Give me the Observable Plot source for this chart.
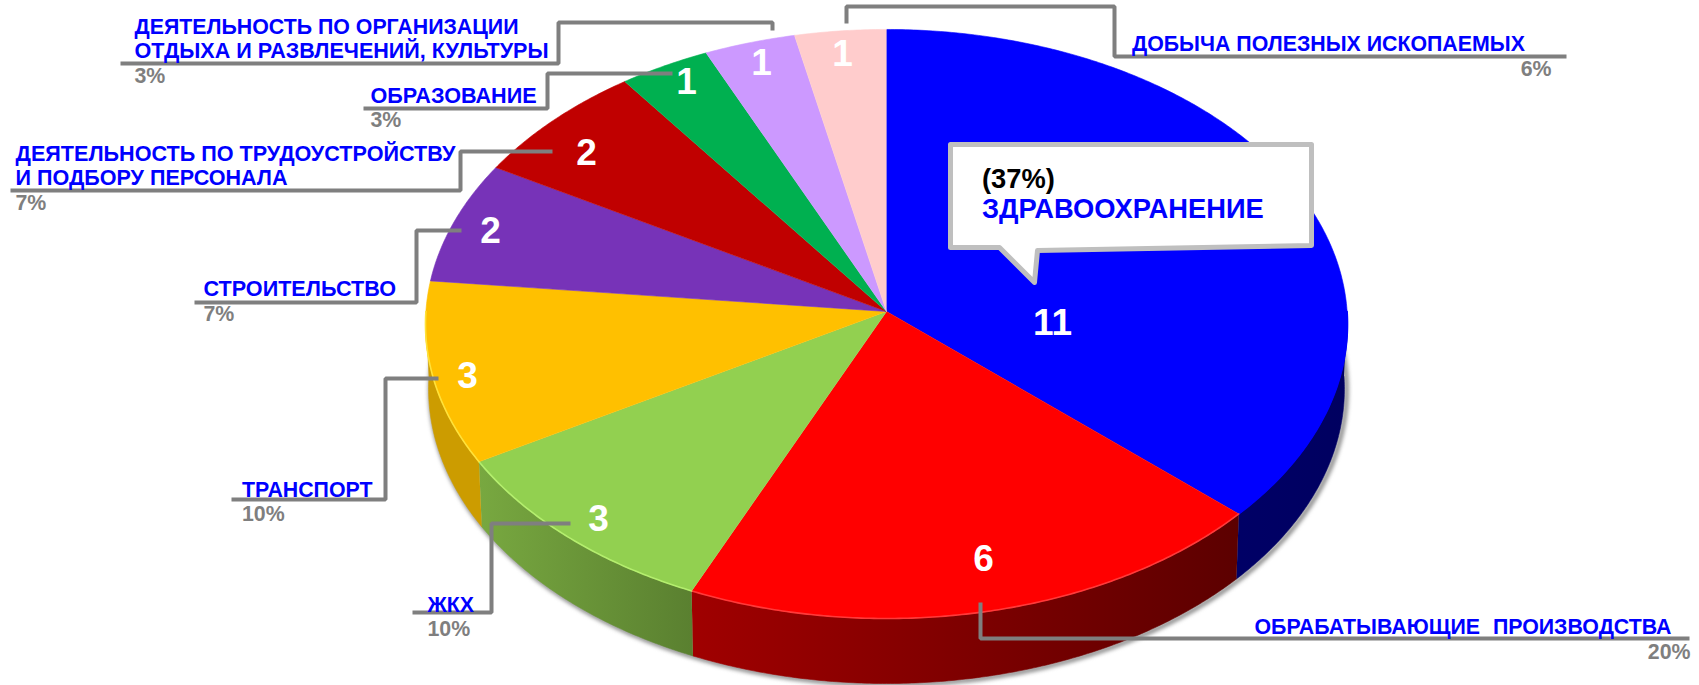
<!DOCTYPE html>
<html>
<head>
<meta charset="utf-8">
<script src="https://cdn.jsdelivr.net/npm/d3@7"></script>
<script src="https://cdn.jsdelivr.net/npm/@observablehq/plot@0.6"></script>
<style>
html,body{margin:0;padding:0;background:#fff;overflow:hidden}
svg{display:block;max-width:none}
</style>
</head>
<body>
<div id="chart"></div>
<script>
// ---- data ----
const categories = ["ЗДРАВООХРАНЕНИЕ","ОБРАБАТЫВАЮЩИЕ ПРОИЗВОДСТВА","ЖКХ","ТРАНСПОРТ","СТРОИТЕЛЬСТВО","ДЕЯТЕЛЬНОСТЬ ПО ТРУДОУСТРОЙСТВУ И ПОДБОРУ ПЕРСОНАЛА","ОБРАЗОВАНИЕ","ДЕЯТЕЛЬНОСТЬ ПО ОРГАНИЗАЦИИ ОТДЫХА И РАЗВЛЕЧЕНИЙ, КУЛЬТУРЫ","ДОБЫЧА ПОЛЕЗНЫХ ИСКОПАЕМЫХ"];
const counts = [11,6,3,3,2,2,1,1,1];
const percents = ["(37%)","20%","10%","10%","7%","7%","3%","3%","6%"];
const topColors = ["#0000FF","#FF0000","#92D050","#FFC000","#7733B8","#C00000","#00B050","#CC99FF","#FFCCCC"];
const rimColors = ["#0000FF","#FF3A3A","#B4EE6E","#FFE23A","#7733B8","#C00000","#00B050","#CC99FF","#FFCCCC"];
const wallLeft  = ["#000066","#A00000","#78A840","#CC9C00","","","","",""];
const wallRight = ["#000060","#5C0000","#5A8030","#CC9C00","","","","",""];

// ---- layout of the pie: a circle seen in perspective ----
const W = 1699, H = 685;
const pie = {cx:886, apexY:311, depth:65, bx:460.6, bxBottom:457.5, ay:294, persp:-0.0424};
const rad = d => d*Math.PI/180;
const project = (t,bx,shift) => {
  const X = Math.sin(t), Y = -Math.cos(t), den = 1+pie.persp*Y;
  return {x:pie.cx+bx*X/den, y:pie.apexY+shift+pie.ay*Y/den};
};
const topRim = t => project(t,pie.bx,0);
const botRim = t => project(t,pie.bxBottom,pie.depth);
const angles = d3.pie().sort(null)(counts);
const arcTs = (a,b,step=rad(0.5)) => {const n=Math.max(2,Math.ceil((b-a)/step)); return d3.range(n+1).map(i=>a+(b-a)*i/n);};

const sliceRows = [], wallRows = [], rimRows = [];
angles.forEach((s,i) => {
  sliceRows.push({k:i,x:pie.cx,y:pie.apexY});
  arcTs(s.startAngle,s.endAngle).forEach(t=>sliceRows.push({k:i,...topRim(t)}));
  const a = Math.max(s.startAngle,Math.PI/2), b = Math.min(s.endAngle,Math.PI*1.5);
  if (b>a) {
    const ts = arcTs(a,b);
    ts.forEach(t=>wallRows.push({k:i,...topRim(t)}));
    ts.slice().reverse().forEach(t=>wallRows.push({k:i,...botRim(t)}));
    ts.forEach(t=>rimRows.push({k:i,...topRim(t)}));
  }
});
const shadowRows = arcTs(Math.PI*0.42,Math.PI*1.55).map(t=>botRim(t));

// ---- leader lines, labels (positions on the picture) ----
const leaderPaths = [
  {i:1,pts:[[980,602],[980,638],[1689,638]]},
  {i:2,pts:[[570,523],[491,523],[491,612],[412,612]]},
  {i:3,pts:[[438,378],[385,378],[385,499],[231,499]]},
  {i:4,pts:[[461,230],[416,230],[416,302],[194,302]]},
  {i:5,pts:[[552,151],[460,151],[460,190],[10,190]]},
  {i:6,pts:[[672,73],[547,73],[547,108],[363,108]]},
  {i:7,pts:[[772,30],[772,22],[558,22],[558,63],[120,63]]},
  {i:8,pts:[[846,23],[846,6],[1114,6],[1114,56],[1566,56]]}
];
const leaderRows = leaderPaths.flatMap(l=>l.pts.map(([x,y])=>({k:l.i,x,y})));
const nameLines = [
  {t:"ОБРАБАТЫВАЮЩИЕ ПРОИЗВОДСТВА",x:1254,y:627,s:21.33},
  {t:"ЖКХ",x:427,y:605,s:21.33},
  {t:"ТРАНСПОРТ",x:241.5,y:490,s:21.33},
  {t:"СТРОИТЕЛЬСТВО",x:203,y:289,s:21.6},
  {t:"ДЕЯТЕЛЬНОСТЬ ПО ТРУДОУСТРОЙСТВУ",x:15,y:154,s:21.6},
  {t:"И ПОДБОРУ ПЕРСОНАЛА",x:15,y:178,s:21.55},
  {t:"ОБРАЗОВАНИЕ",x:370,y:96,s:21.6},
  {t:"ДЕЯТЕЛЬНОСТЬ ПО ОРГАНИЗАЦИИ",x:134,y:27,s:21.33},
  {t:"ОТДЫХА И РАЗВЛЕЧЕНИЙ, КУЛЬТУРЫ",x:134,y:51,s:21.55},
  {t:"ДОБЫЧА ПОЛЕЗНЫХ ИСКОПАЕМЫХ",x:1131.5,y:44,s:21.33}
];
const pctRows = [
  {i:1,x:1690,y:652,a:"end"},{i:2,x:427,y:629,a:"start"},{i:3,x:241.5,y:514,a:"start"},
  {i:4,x:203,y:314,a:"start"},{i:5,x:15,y:203,a:"start"},{i:6,x:370,y:120,a:"start"},
  {i:7,x:134,y:76,a:"start"},{i:8,x:1551,y:69,a:"end"}
];
const valuePos = [[1052,323],[983,559],[598,519],[467,376],[490,231],[586,153],[686,82],[761,63],[842,54]];
const valueRows = counts.map((v,i)=>({v,x:valuePos[i][0],y:valuePos[i][1]}));
const callout = [[950,144],[1311,144],[1311,245],[1037,250],[1034,282],[999,247],[950,247],[950,144]].map(([x,y])=>({x,y}));

function gradients(){
  const ns="http://www.w3.org/2000/svg";
  const defs=document.createElementNS(ns,"defs");
  angles.forEach((s,i)=>{
    if(!wallLeft[i])return;
    const a=Math.max(s.startAngle,Math.PI/2), b=Math.min(s.endAngle,Math.PI*1.5);
    const g=document.createElementNS(ns,"linearGradient");
    g.setAttribute("id","wall"+i);
    g.setAttribute("gradientUnits","userSpaceOnUse");
    g.setAttribute("x1",topRim(b).x); g.setAttribute("x2",topRim(a).x);
    g.setAttribute("y1",0); g.setAttribute("y2",0);
    [[0,wallLeft[i]],[1,wallRight[i]]].forEach(([o,c])=>{
      const st=document.createElementNS(ns,"stop");
      st.setAttribute("offset",o); st.setAttribute("stop-color",c); g.appendChild(st);
    });
    defs.appendChild(g);
  });
  return defs;
}

const font = "'Liberation Sans', Arial, sans-serif";
const labelSize = 21.33, calloutSize = 27.3;
const plot = Plot.plot({
  width:W,height:H,margin:0,
  x:{domain:[0,W],range:[0,W],axis:null},
  y:{domain:[0,H],range:[0,H],axis:null},
  style:{background:"#fff",fontFamily:font},
  marks:[
    gradients,
    Plot.line(shadowRows,{x:"x",y:"y",stroke:"#777",strokeWidth:4,dx:2,dy:1,imageFilter:"blur(2px)"}),
    ...angles.map((s,i)=>wallLeft[i]?Plot.line(wallRows.filter(r=>r.k===i),{x:"x",y:"y",fill:`url(#wall${i})`,stroke:`url(#wall${i})`,strokeWidth:0.6}):null),
    ...angles.map((s,i)=>Plot.line(sliceRows.filter(r=>r.k===i),{x:"x",y:"y",fill:topColors[i],stroke:topColors[i],strokeWidth:0.6})),
    ...angles.map((s,i)=>Plot.line(rimRows.filter(r=>r.k===i),{x:"x",y:"y",stroke:rimColors[i],strokeWidth:1.6})),
    Plot.line(leaderRows,{x:"x",y:"y",z:"k",stroke:"#7F7F7F",strokeWidth:4,strokeLinejoin:"miter",strokeLinecap:"butt",curve:"linear"}),
    Plot.line(callout,{x:"x",y:"y",fill:"#fff",stroke:"#BFBFBF",strokeWidth:5,strokeLinejoin:"round",curve:"linear"}),
    ...nameLines.map(n=>Plot.text([n],{x:"x",y:"y",text:"t",textAnchor:"start",fill:"#0000FF",fontSize:n.s,fontWeight:700})),
    Plot.text(pctRows,{x:"x",y:"y",text:d=>percents[d.i],textAnchor:"start",filter:d=>d.a==="start",fill:"#7F7F7F",fontSize:labelSize,fontWeight:700}),
    Plot.text(pctRows,{x:"x",y:"y",text:d=>percents[d.i],textAnchor:"end",filter:d=>d.a==="end",fill:"#7F7F7F",fontSize:labelSize,fontWeight:700}),
    Plot.text(valueRows,{x:"x",y:"y",text:"v",fill:"#fff",fontSize:37,fontWeight:700}),
    Plot.text([percents[0]],{x:()=>981.5,y:()=>179,text:d=>d,textAnchor:"start",fill:"#000",fontSize:calloutSize,fontWeight:700}),
    Plot.text([categories[0]],{x:()=>981.5,y:()=>209,text:d=>d,textAnchor:"start",fill:"#0000FF",fontSize:calloutSize,fontWeight:700})
  ]
});
plot.querySelectorAll("text").forEach(t=>{ if(t.textContent===categories[1]) t.style.wordSpacing="7px"; });
document.getElementById("chart").appendChild(plot);
</script>
</body>
</html>
